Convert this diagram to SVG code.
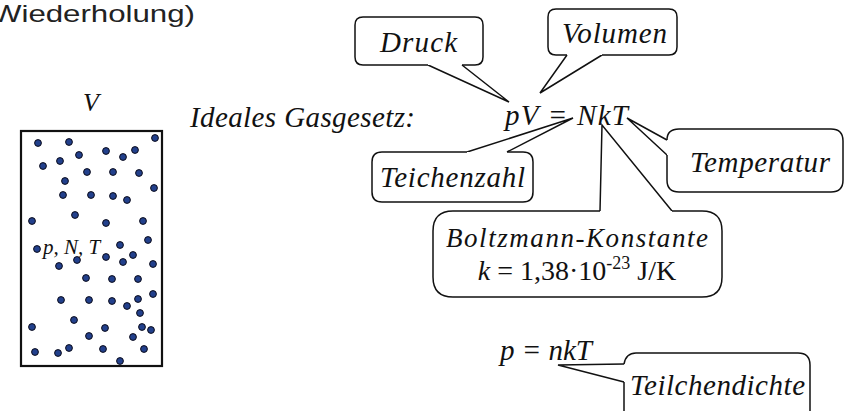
<svg xmlns="http://www.w3.org/2000/svg" width="859" height="411" viewBox="0 0 859 411">
  <style>
    .it { font-style: italic; font-size: 29px; }
    .up { font-size: 28px; }
    .hd { font-size: 24px; fill: #222; }
    .sm { font-size: 21px; }
    .v { font-size: 26px; }
    .bz { font-size: 27px; }
    .box { fill: #fff; stroke: #111; stroke-width: 1.5; stroke-linejoin: round; }
    .wedge { fill: #fff; stroke: #111; stroke-width: 1.5; stroke-linejoin: miter; }
    .mol { fill: #22408c; stroke: #0b0b1a; stroke-width: 1; }
  </style>
  <defs>
    <circle id="m" r="3.4" class="mol"/>
  </defs>

  <rect width="859" height="411" fill="#fff"/>

  <!-- heading fragment, runs off the left edge -->
  <text class="hd" font-family="Liberation Sans, Arial, sans-serif" x="-8" y="22" textLength="203" lengthAdjust="spacingAndGlyphs">Wiederholung)</text>

  <g font-family="Liberation Serif, Times New Roman, DejaVu Serif, serif" fill="#111">
  <!-- gas container with molecules -->
  <g id="container">
    <text class="it v" x="91" y="111" text-anchor="middle">V</text>
    <rect x="21" y="131" width="141" height="235" fill="#fff" stroke="#111" stroke-width="2.2"/>
    <g id="molecules">
      <use href="#m" x="38" y="143"/><use href="#m" x="69" y="142"/><use href="#m" x="155" y="138"/>
      <use href="#m" x="79" y="155"/><use href="#m" x="106" y="151"/><use href="#m" x="135" y="150"/>
      <use href="#m" x="123" y="157"/><use href="#m" x="43" y="166"/><use href="#m" x="60" y="161"/>
      <use href="#m" x="87" y="172"/><use href="#m" x="113" y="172"/><use href="#m" x="139" y="173"/>
      <use href="#m" x="65" y="181"/><use href="#m" x="154" y="188"/><use href="#m" x="63" y="195"/>
      <use href="#m" x="91" y="195"/><use href="#m" x="113" y="196"/><use href="#m" x="127" y="200"/>
      <use href="#m" x="75" y="215"/><use href="#m" x="32" y="221"/><use href="#m" x="106" y="223"/>
      <use href="#m" x="143" y="221"/><use href="#m" x="148" y="240"/><use href="#m" x="37" y="249"/>
      <use href="#m" x="120" y="245"/><use href="#m" x="133" y="255"/><use href="#m" x="106" y="257"/>
      <use href="#m" x="77" y="260"/><use href="#m" x="123" y="262"/><use href="#m" x="59" y="266"/>
      <use href="#m" x="153" y="264"/><use href="#m" x="86" y="278"/><use href="#m" x="112" y="279"/>
      <use href="#m" x="138" y="279"/><use href="#m" x="61" y="300"/><use href="#m" x="89" y="300"/>
      <use href="#m" x="112" y="301"/><use href="#m" x="127" y="306"/><use href="#m" x="138" y="299"/>
      <use href="#m" x="153" y="294"/><use href="#m" x="140" y="313"/><use href="#m" x="74" y="320"/>
      <use href="#m" x="32" y="327"/><use href="#m" x="105" y="328"/><use href="#m" x="142" y="327"/>
      <use href="#m" x="151" y="330"/><use href="#m" x="89" y="336"/><use href="#m" x="133" y="337"/>
      <use href="#m" x="35" y="352"/><use href="#m" x="58" y="353"/><use href="#m" x="69" y="348"/>
      <use href="#m" x="103" y="349"/><use href="#m" x="144" y="349"/><use href="#m" x="120" y="361"/>
    </g>
    <text class="it sm" x="43" y="254">p, N, T</text>
  </g>

  <!-- equations -->
  <g id="law">
    <text class="it" x="190" y="127" textLength="225">Ideales Gasgesetz:</text>
    <text class="it" x="505" y="125" textLength="123">pV = NkT</text>
  </g>
  <g id="law-density">
    <text class="it" x="500" y="360" textLength="92">p = nkT</text>
  </g>

  <!-- callout pointers -->
  <g id="connectors">
    <polyline class="wedge" points="428,65 509,102 462,65"/>
    <polyline class="wedge" points="567,55 540,93 602,55"/>
    <polyline class="wedge" points="667,140 627,118 667,155"/>
    <polyline class="wedge" points="467,152 573,118 507,152"/>
    <polyline class="wedge" points="600,211 602,125 672,211"/>
    <polyline class="wedge" points="624,364 558,365 624,382"/>
  </g>

  <!-- callouts -->
  <g id="druck">
    <path class="box" d="M462,65 H475 Q483,65 483,57 V25 Q483,17 475,17 H363 Q355,17 355,25 V57 Q355,65 363,65 H428"/>
    <text class="it" x="380" y="52" textLength="77">Druck</text>
  </g>
  <g id="volumen">
    <path class="box" d="M602,55 H669 Q677,55 677,47 V17 Q677,9 669,9 H556 Q548,9 548,17 V47 Q548,55 556,55 H567"/>
    <text class="it" x="562" y="43" textLength="105">Volumen</text>
  </g>
  <g id="temperatur">
    <path class="box" d="M667,155 V180 Q667,192 679,192 H831 Q843,192 843,180 V141 Q843,129 831,129 H679 Q667,129 667,140"/>
    <text class="it" x="690" y="172" textLength="140">Temperatur</text>
  </g>
  <g id="teilchenzahl">
    <path class="box" d="M507,152 H523 Q533,152 533,162 V192 Q533,202 523,202 H382 Q372,202 372,192 V162 Q372,152 382,152 H467"/>
    <text class="it" x="380" y="187" textLength="145">Teichenzahl</text>
  </g>
  <g id="boltzmann">
    <path class="box" d="M672,211 H702 Q722,211 722,231 V277 Q722,297 702,297 H453 Q433,297 433,277 V231 Q433,211 453,211 H600"/>
    <text class="it bz" x="446" y="247" textLength="262">Boltzmann-Konstante</text>
    <text class="up" x="577" y="280" text-anchor="middle"><tspan font-style="italic">k</tspan> = 1,38·10<tspan style="font-size:18px" dy="-11">-23</tspan><tspan dy="11"> J/K</tspan></text>
  </g>
  <g id="teilchendichte">
    <path class="box" d="M624,382 V420 H810 V365 Q810,353 798,353 H636 Q626,353 624,364"/>
    <text class="it" x="630" y="395" textLength="175">Teilchendichte</text>
  </g>
  </g>
</svg>
